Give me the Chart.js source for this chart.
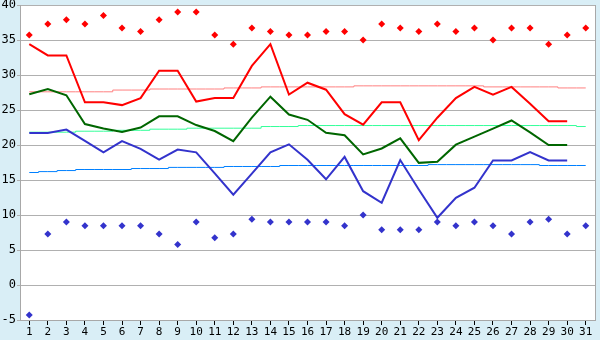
<!DOCTYPE html>
<html>
<head>
<meta charset="utf-8">
<script src="https://cdn.jsdelivr.net/npm/chart.js@4/dist/chart.umd.min.js"></script>
<style>
  html, body { margin: 0; padding: 0; background: #d9eef6; }
  canvas { display: block; }
</style>
</head>
<body>
<canvas id="c" width="600" height="340"></canvas>
<script>
// ---- data ----
const days = ['1','2','3','4','5','6','7','8','9','10','11','12','13','14','15','16','17','18','19','20','21','22','23','24','25','26','27','28','29','30','31'];
const yTicks = [-5, 0, 5, 10, 15, 20, 25, 30, 35, 40];

// record highs (red markers)
const recordMax = [35.7,37.3,37.9,37.3,38.5,36.7,36.2,37.9,39.0,39.0,35.7,34.4,36.7,36.2,35.7,35.7,36.2,36.2,35.0,37.3,36.7,36.2,37.3,36.2,36.7,35.0,36.7,36.7,34.4,35.7,36.7];
// record lows (blue markers)
const recordMin = [-4.3,7.3,9.0,8.45,8.45,8.45,8.45,7.3,5.8,9.0,6.75,7.3,9.4,9.0,9.0,9.0,9.0,8.45,10.0,7.9,7.9,7.9,9.0,8.45,9.0,8.45,7.3,9.0,9.4,7.3,8.45];

// daily max / mean / min (thick lines)
const maxTemp  = [34.4,32.8,32.8,26.1,26.1,25.7,26.7,30.6,30.6,26.2,26.7,26.7,31.3,34.4,27.2,28.9,27.9,24.4,22.9,26.1,26.1,20.7,23.9,26.7,28.3,27.2,28.3,25.9,23.4,23.4,null];
const meanTemp = [27.25,28.0,27.1,23.0,22.35,21.85,22.5,24.1,24.1,22.85,22.0,20.55,23.9,26.9,24.35,23.6,21.75,21.4,18.65,19.5,20.95,17.45,17.6,20.05,21.2,22.35,23.5,21.8,20.0,20.0,null];
const minTemp  = [21.7,21.7,22.2,20.6,18.95,20.55,19.45,17.9,19.35,18.95,15.95,12.9,15.9,18.95,20.1,17.9,15.1,18.3,13.4,11.75,17.85,13.65,9.6,12.45,13.9,17.8,17.8,19.0,17.8,17.8,null];

// climatological normals (thin stepped lines)
const normalMax  = [27.6,27.6,27.6,27.6,27.6,27.85,27.85,28.0,28.0,28.0,28.0,28.15,28.15,28.3,28.3,28.3,28.3,28.3,28.45,28.45,28.45,28.45,28.45,28.45,28.45,28.3,28.3,28.3,28.3,28.15,28.15];
const normalMean = [21.83,21.83,21.83,21.97,21.97,22.1,22.1,22.26,22.26,22.4,22.4,22.4,22.4,22.64,22.64,22.78,22.78,22.78,22.78,22.78,22.78,22.78,22.78,22.78,22.78,22.78,22.78,22.78,22.78,22.78,22.64];
const normalMin  = [16.07,16.2,16.35,16.5,16.5,16.5,16.64,16.64,16.8,16.8,16.8,16.93,16.93,16.93,17.07,17.07,17.07,17.07,17.07,17.07,17.07,17.07,17.2,17.2,17.2,17.2,17.2,17.2,17.07,17.07,17.07];

// ---- chart ----
const bgPlugin = {
  id: 'bg',
  beforeDraw(chart) {
    const { ctx, chartArea: a } = chart;
    ctx.save();
    ctx.fillStyle = '#d9eef6';
    ctx.fillRect(0, 0, chart.width, chart.height);
    ctx.fillStyle = '#ffffff';
    ctx.fillRect(a.left, a.top, a.right - a.left, a.bottom - a.top);
    ctx.restore();
  },
  afterDraw(chart) {
    const { ctx, chartArea: a } = chart;
    ctx.save();
    ctx.strokeStyle = '#a8a8a8';
    ctx.lineWidth = 1;
    ctx.beginPath();
    ctx.moveTo(Math.round(a.right) + 0.5, a.top);
    ctx.lineTo(Math.round(a.right) + 0.5, a.bottom);
    ctx.stroke();
    ctx.restore();
  }
};

const thin = (data, color) => ({
  data, borderColor: color, borderWidth: 1, pointRadius: 0, stepped: 'middle',
  fill: false, order: 3
});
const thick = (data, color) => ({
  data, borderColor: color, borderWidth: 2, pointRadius: 0, tension: 0,
  fill: false, order: 2
});
const marks = (data, color) => ({
  data, showLine: false, pointStyle: 'rectRot', pointRadius: 3.5,
  pointBackgroundColor: color, pointBorderColor: color, pointBorderWidth: 0, order: 1
});

new Chart(document.getElementById('c'), {
  type: 'line',
  data: {
    labels: days,
    datasets: [
      marks(recordMax, '#ff0000'),
      marks(recordMin, '#3333cc'),
      thick(maxTemp, '#ff0000'),
      thick(meanTemp, '#006600'),
      thick(minTemp, '#3333cc'),
      thin(normalMax, '#ff8080'),
      thin(normalMean, '#33ff99'),
      thin(normalMin, '#0080ff')
    ]
  },
  options: {
    responsive: false,
    animation: false,
    events: [],
    layout: { padding: { top: 5, right: 5, left: 0, bottom: 0 } },
    plugins: { legend: { display: false }, tooltip: { enabled: false } },
    scales: {
      x: {
        offset: true,
        grid: { display: true, drawOnChartArea: false, drawTicks: true, tickLength: 5, offset: false, color: '#000000', tickColor: '#000000' },
        border: { display: true, color: '#a8a8a8', width: 1 },
        ticks: { color: '#000000', padding: 1, maxRotation: 0, autoSkip: false,
                 font: { family: 'DejaVu Sans Mono', size: 11 } },
        afterFit(s) { s.height = 20; s.paddingLeft = 0; s.paddingRight = 0; }
      },
      y: {
        min: -5, max: 40,
        afterBuildTicks(s) { s.ticks = yTicks.map(v => ({ value: v })); },
        grid: { color: '#b0b0b0', tickLength: 3, drawTicks: true, tickColor: '#b0b0b0' },
        border: { display: true, color: '#a8a8a8', width: 1 },
        ticks: { color: '#000000', padding: 1,
                 font: { family: 'DejaVu Sans Mono', size: 12 } },
        afterFit(s) { s.width = 20; s.paddingTop = 0; s.paddingBottom = 0; }
      }
    }
  },
  plugins: [bgPlugin]
});
</script>
</body>
</html>
